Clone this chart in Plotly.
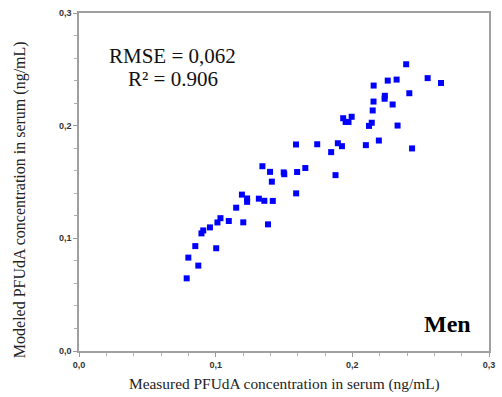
import plotly.graph_objects as go

# Measured vs modelled PFUdA serum concentrations (ng/mL), men
measured = [0.0788, 0.0800, 0.0873, 0.0851, 0.0896, 0.0909, 0.0958, 0.1004, 0.1013, 0.1035,
            0.1096, 0.1202, 0.1150, 0.1192, 0.1230, 0.1230, 0.1316, 0.1356, 0.1418, 0.1383,
            0.1589, 0.1342, 0.1398, 0.1411, 0.1498, 0.1502, 0.1596, 0.1656, 0.1877, 0.1588,
            0.1743, 0.1845, 0.1894, 0.1924, 0.1933, 0.1951, 0.1972, 0.1995, 0.2099, 0.2194,
            0.2122, 0.2142, 0.2149, 0.2155, 0.2156, 0.2238, 0.2236, 0.2259, 0.2295, 0.2324,
            0.2331, 0.2394, 0.2417, 0.2437, 0.2551, 0.2649]
modeled = [0.0645, 0.0829, 0.0758, 0.0931, 0.1044, 0.1070, 0.1097, 0.0912, 0.1141, 0.1179,
           0.1154, 0.1142, 0.1272, 0.1388, 0.1354, 0.1324, 0.1352, 0.1333, 0.1332, 0.1124,
           0.1399, 0.1640, 0.1590, 0.1503, 0.1585, 0.1569, 0.1589, 0.1624, 0.1561, 0.1833,
           0.1835, 0.1765, 0.1844, 0.1818, 0.2066, 0.2033, 0.2033, 0.2079, 0.1827, 0.1868,
           0.1998, 0.2026, 0.2135, 0.2214, 0.2356, 0.2265, 0.2239, 0.2400, 0.2188, 0.2409,
           0.2001, 0.2545, 0.2288, 0.1798, 0.2422, 0.2379]

tick_vals = [0.0, 0.1, 0.2, 0.3]
tick_text = ["0,0", "0,1", "0,2", "0,3"]

x_title = "Measured PFUdA concentration in serum (ng/mL)"
y_title = "Modeled PFUdA concentration in serum (ng/mL)"

fig = go.Figure()
fig.add_trace(go.Scatter(
    x=measured, y=modeled, mode="markers",
    marker=dict(symbol="square", size=6, color="#0000ff"),
    showlegend=False,
))

axis_common = dict(
    range=[0, 0.3],
    tickvals=tick_vals,
    ticktext=tick_text,
    ticks="outside",
    ticklen=4,
    tickcolor="#9a9a9a",
    tickfont=dict(family="Liberation Sans", size=9, color="#333333", weight="bold"),
    showgrid=False,
    zeroline=False,
    showline=True,
    linecolor="#a0a0a0",
    linewidth=1.5,
    mirror=True,
    minor=dict(dtick=0.02, ticks="outside", ticklen=3, tickcolor="#b0b0b0"),
)
fig.update_xaxes(**axis_common)
fig.update_yaxes(**axis_common)

fig.add_annotation(
    x=0.5, y=-0.099, xref="paper", yref="paper", showarrow=False,
    xanchor="center", yanchor="middle", text=x_title,
    font=dict(family="Liberation Serif", size=15.4, color="#222222"),
)
fig.add_annotation(
    x=-0.144, y=0.449, xref="paper", yref="paper", showarrow=False,
    xanchor="center", yanchor="middle", textangle=-90, text=y_title,
    font=dict(family="Liberation Serif", size=16, color="#222222"),
)

stat_font = dict(family="Liberation Serif", size=21, color="#111111")
fig.add_annotation(
    x=0.0685, y=0.2620, xref="x", yref="y", showarrow=False,
    text="RMSE = 0,062", font=stat_font,
)
fig.add_annotation(
    x=0.0690, y=0.2410, xref="x", yref="y", showarrow=False,
    text="R² = 0.906", font=stat_font,
)
fig.add_annotation(
    x=0.2695, y=0.024, xref="x", yref="y", showarrow=False,
    text="<b>Men</b>",
    font=dict(family="Liberation Serif", size=24, color="#000000"),
)

fig.update_layout(
    width=502, height=397,
    margin=dict(l=79, r=7, t=13, b=46),
    paper_bgcolor="white",
    plot_bgcolor="white",
)

fig.write_html("out.html")
